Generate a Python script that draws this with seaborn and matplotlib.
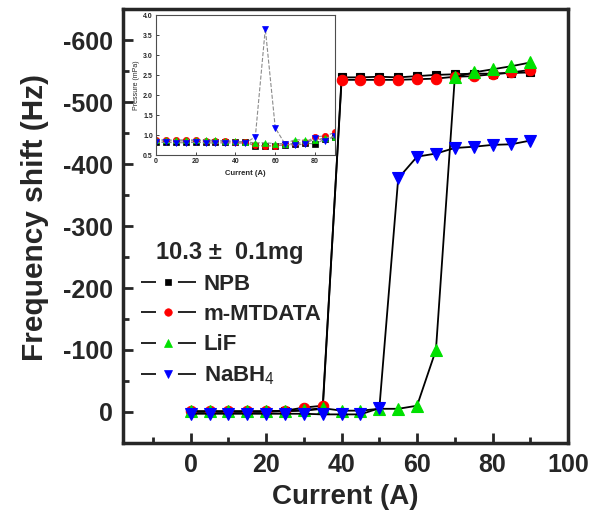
import numpy as np
import pandas as pd
import matplotlib
matplotlib.use("Agg")
import matplotlib.pyplot as plt
from matplotlib.lines import Line2D
import seaborn as sns

sns.set_style("ticks")
plt.rcParams['font.family'] = ['Liberation Sans', 'DejaVu Sans']
plt.rcParams['axes.unicode_minus'] = False
plt.rcParams['mathtext.fontset'] = 'custom'
plt.rcParams['mathtext.rm'] = 'Liberation Sans'
plt.rcParams['mathtext.bf'] = 'Liberation Sans:bold'

# ---------------- data ----------------
current = [0, 5, 10, 15, 20, 25, 30, 35, 40, 45, 50, 55, 60, 65, 70, 75, 80, 85, 90]

npb = [0, 0, 0, 0, 0, -1, -2, -5, -540, -540, -541, -540, -542, -544, -545, -546, -546, -547, -548]
mmtdata = [-1, -1, -1, -1, -1, -2, -7, -10, -536, -536, -536, -536, -537, -538, -541, -542, -545, -548, -552]
lif = [-1, -1, -1, -1, -1, -2, -3, -6, -2, -2, -5, -5, -10, -100, -540, -548, -553, -558, -564]
nabh4 = [3, 3, 3, 3, 3, 3, 3, 4, 4, 4, -6, -377, -412, -417, -426, -428, -431, -432, -438]

p_npb = [0.83, 0.83, 0.83, 0.83, 0.83, 0.83, 0.83, 0.83, 0.83, 0.82, 0.73, 0.73, 0.74, 0.75, 0.77, 0.80, 0.78, 0.90, 0.95]
p_mmtdata = [0.88, 0.87, 0.87, 0.87, 0.87, 0.86, 0.86, 0.85, 0.84, 0.82, 0.75, 0.73, 0.73, 0.77, 0.80, 0.82, 0.96, 0.98, 1.07]
p_lif = [0.89, 0.88, 0.88, 0.88, 0.88, 0.88, 0.87, 0.86, 0.85, 0.83, 0.81, 0.81, 0.79, 0.79, 0.89, 0.87, 0.87, 0.94, 0.96]
p_nabh4 = [0.82, 0.82, 0.81, 0.81, 0.82, 0.81, 0.80, 0.81, 0.80, 0.80, 0.96, 3.67, 1.18, 0.77, 0.75, 0.78, 0.92, 0.86, 0.98]

labels = ["NPB", "m-MTDATA", "LiF", "NaBH$_4$"]
colors = ["black", "red", "#00e000", "blue"]
markers = ["s", "o", "^", "v"]
msizes = [6, 7.5, 8, 8]
main_series = [npb, mmtdata, lif, nabh4]
inset_series = [p_npb, p_mmtdata, p_lif, p_nabh4]

main_xticks = [0, 20, 40, 60, 80, 100]
main_yticks = [0, -100, -200, -300, -400, -500, -600]
inset_xticks = [0, 20, 40, 60, 80]
inset_yticks = [0.5, 1.0, 1.5, 2.0, 2.5, 3.0, 3.5, 4.0]

# ---------------- figure ----------------
fig = plt.figure(figsize=(6.02, 5.12), dpi=100)
ax = fig.add_axes([0.204, 0.135, 0.7395, 0.847])

for lab, col, mk, ms, ys in zip(labels, colors, markers, msizes, main_series):
    df = pd.DataFrame({"x": current, "y": ys})
    sns.lineplot(data=df, x="x", y="y", ax=ax, color="black", lw=1.3,
                 marker=mk, markersize=ms, markerfacecolor=col,
                 markeredgecolor=col, markeredgewidth=0.8, legend=False)

ax.set_xlim(-18, 100)
ax.set_ylim(50, -650)
ax.set_xticks(main_xticks)
ax.set_yticks(main_yticks)
ax.set_xticks(np.arange(-10, 100, 20), minor=True)
ax.set_yticks(np.arange(-650, 50, 100), minor=True)
ax.tick_params(which='both', direction='in', width=2, top=False, right=False)
ax.tick_params(which='major', length=7, labelsize=18, pad=7)
ax.tick_params(which='minor', length=4)
for lbl in ax.get_xticklabels() + ax.get_yticklabels():
    lbl.set_fontweight('bold')
for sp in ax.spines.values():
    sp.set_linewidth(2.5)
ax.set_xlabel("Current (A)", fontsize=20, fontweight='bold', labelpad=5)
ax.set_ylabel("Frequency shift (Hz)", fontsize=21.5, fontweight='bold', labelpad=10)
ax.yaxis.label.set_y(0.52)

ax.text(0.24, 0.438, "10.3 \u00b1  0.1mg", transform=ax.transAxes, fontsize=17,
        fontweight='bold', ha='center', va='center')
leg_lw = 1.2
dash = tuple(v / leg_lw for v in (10.8, 15.8, 13.5, 20))
handles = [Line2D([], [], color='black', lw=leg_lw, linestyle=(0, dash),
                  marker=mk, markersize=ms * 0.72,
                  markerfacecolor=col, markeredgecolor=col, markeredgewidth=0.5)
           for col, mk, ms in zip(colors, markers, msizes)]
leg = ax.legend(handles, labels, loc='upper left', bbox_to_anchor=(0.04, 0.39),
                frameon=False, fontsize=16, handlelength=2.48, handletextpad=0.35,
                labelspacing=0.42, borderpad=0, borderaxespad=0)
for t in leg.get_texts():
    t.set_fontweight('bold')

# ---------------- inset ----------------
ins = fig.add_axes([0.2586, 0.697, 0.298, 0.273])
for lab, col, mk, ys in zip(labels, colors, markers, inset_series):
    df = pd.DataFrame({"x": current, "y": ys})
    sns.lineplot(data=df, x="x", y="y", ax=ins, color="0.55", lw=0.8,
                 linestyle='--', marker=mk, markersize=4.5, markerfacecolor=col,
                 markeredgecolor=col, markeredgewidth=0.5, legend=False)
ins.set_xlim(0, 90)
ins.set_ylim(0.5, 4.0)
ins.set_xticks(inset_xticks)
ins.set_yticks(inset_yticks)
ins.set_yticklabels([f"{v:.1f}" for v in inset_yticks])
ins.tick_params(direction='in', length=2, width=0.6, labelsize=5, pad=2)
for lbl in ins.get_xticklabels() + ins.get_yticklabels():
    lbl.set_fontweight('bold')
for sp in ins.spines.values():
    sp.set_linewidth(0.8)
    sp.set_color('0.3')
ins.set_xlabel("Current (A)", fontsize=5.5, fontweight='bold', labelpad=4)
ins.set_ylabel("Pressure (mPa)", fontsize=5, labelpad=2)

fig.savefig("out.png", dpi=100)
